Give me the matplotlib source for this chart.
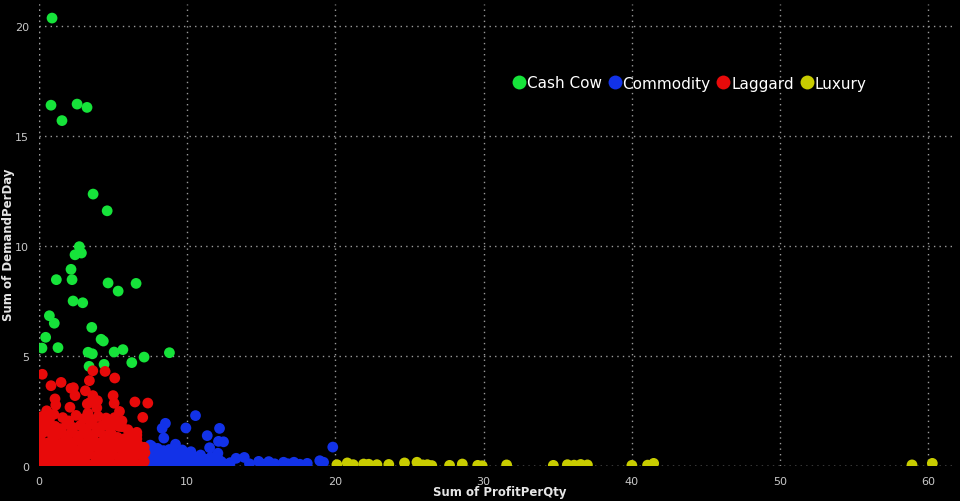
import matplotlib
matplotlib.use("Agg")
import matplotlib.pyplot as plt
from matplotlib.lines import Line2D

# Cash Cow
cow_x = [0.88, 0.81, 1.55, 2.57, 3.24, 3.65, 4.60, 2.72, 2.43, 2.86, 2.16, 1.17,
         2.23, 4.66, 5.34, 6.55, 2.30, 2.95, 0.70, 1.03, 3.56, 0.45, 4.19, 4.34,
         1.28, 0.20, 3.31, 3.60, 5.07, 5.66, 7.09, 6.26, 3.38, 4.39, 8.80]
cow_y = [20.36, 16.40, 15.70, 16.45, 16.30, 12.36, 11.60, 9.97, 9.60, 9.68, 8.94, 8.47,
         8.47, 8.32, 7.95, 8.30, 7.50, 7.42, 6.83, 6.49, 6.30, 5.85, 5.76, 5.68,
         5.38, 5.36, 5.17, 5.10, 5.18, 5.29, 4.95, 4.70, 4.53, 4.62, 5.15]

# Commodity
com_x = [7.30, 7.35, 7.40, 7.60, 7.70, 7.80, 8.00, 8.10, 8.20, 8.40, 8.50, 8.70,
         8.80, 8.90, 9.10, 9.20, 9.40, 9.60, 9.80, 9.90, 10.1, 10.3, 10.5, 10.7,
         10.9, 11.1, 11.3, 11.5, 11.8, 12.0, 12.3, 12.6, 12.9, 13.3, 13.85, 14.2,
         14.82, 15.1, 15.5, 15.9, 16.5, 16.8, 17.2, 17.6, 18.1, 18.94, 19.2, 19.82,
         10.56, 8.53, 8.31, 9.91, 12.18, 8.42, 11.35, 12.11, 12.45, 9.21, 11.51, 12.07,
         9.66, 10.25, 7.50, 7.50, 7.90, 8.30, 8.60, 9.00, 9.30, 9.70, 10.0, 10.4,
         11.0, 11.6, 12.1, 7.45, 7.65, 8.05, 8.45, 8.95]
com_y = [0.10, 0.40, 0.70, 0.90, 0.20, 0.55, 0.80, 0.10, 0.40, 0.70, 0.20, 0.50,
         0.75, 0.10, 0.35, 0.60, 0.15, 0.45, 0.20, 0.60, 0.30, 0.10, 0.40, 0.20,
         0.50, 0.10, 0.30, 0.15, 0.25, 0.10, 0.20, 0.08, 0.15, 0.35, 0.39, 0.10,
         0.21, 0.08, 0.20, 0.10, 0.17, 0.10, 0.17, 0.08, 0.12, 0.24, 0.17, 0.86,
         2.29, 1.94, 1.71, 1.73, 1.71, 1.27, 1.38, 1.12, 1.10, 0.99, 0.83, 0.58,
         0.73, 0.65, 0.95, 0.30, 0.30, 0.15, 0.35, 0.60, 0.40, 0.10, 0.45, 0.25,
         0.30, 0.40, 0.30, 0.60, 0.05, 0.55, 0.05, 0.30]

# Laggard
lag_x = [0.05, 0.40, 0.80, 1.20, 1.60, 2.00, 2.40, 2.80, 3.20, 3.60, 4.00, 4.40,
         4.80, 5.20, 5.60, 6.00, 6.40, 6.80, 7.10,
         0.10, 0.55, 0.95, 1.40, 1.80, 2.20, 2.60, 3.00, 3.40, 3.80, 4.20, 4.60,
         5.00, 5.40, 5.80, 6.20, 6.60, 7.00, 7.15,
         0.05, 0.45, 0.85, 1.30, 1.70, 2.10, 2.50, 2.90, 3.30, 3.70, 4.10, 4.50,
         4.90, 5.30, 5.70, 6.10, 6.50, 6.90, 7.10,
         0.15, 0.60, 1.00, 1.45, 1.90, 2.30, 2.70, 3.10, 3.50, 3.90, 4.30, 4.70,
         5.10, 5.50, 5.90, 6.30, 6.70,
         0.05, 0.25, 0.90, 1.30, 1.75, 2.15, 2.60, 3.00, 3.30, 3.70, 4.10, 4.50,
         4.90, 5.30, 5.80, 6.20, 6.60,
         0.10, 0.30, 0.60, 1.10, 1.50, 1.90, 2.30, 2.80, 3.20, 3.50, 3.90, 4.30,
         4.80, 5.40, 6.00,
         0.05, 0.20, 0.70, 1.00, 1.60, 2.00, 2.50, 3.00, 3.30, 3.60, 4.00, 4.60,
         5.10, 5.60,
         0.22, 3.63, 4.46, 5.11, 0.81, 1.49, 2.16, 2.32, 3.40, 2.43, 3.13, 5.00,
         1.08, 1.13, 6.47, 7.34, 7.00, 2.09, 3.26, 3.63, 3.94, 5.07, 5.43, 3.90,
         3.45, 0.52, 5.59, 6.51, 6.26, 6.60, 4.53, 5.07, 6.60]
lag_y = [0.10, 0.15, 0.08, 0.20, 0.10, 0.18, 0.06, 0.22, 0.12, 0.05, 0.20, 0.10,
         0.16, 0.07, 0.20, 0.10, 0.15, 0.08, 0.20,
         0.45, 0.40, 0.50, 0.42, 0.52, 0.40, 0.48, 0.44, 0.55, 0.40, 0.50, 0.45,
         0.52, 0.40, 0.50, 0.42, 0.50, 0.45, 0.60,
         0.80, 0.75, 0.82, 0.72, 0.85, 0.78, 0.70, 0.84, 0.76, 0.88, 0.72, 0.80,
         0.74, 0.86, 0.75, 0.82, 0.72, 0.78, 0.85,
         1.10, 1.05, 1.15, 1.00, 1.12, 1.05, 1.18, 1.02, 1.14, 1.05, 1.12, 1.00,
         1.10, 1.02, 0.98, 1.05, 0.95,
         1.35, 1.50, 1.40, 1.45, 1.35, 1.50, 1.38, 1.48, 1.35, 1.42, 1.55, 1.35,
         1.45, 1.30, 1.25, 1.30, 1.40,
         1.70, 1.85, 1.65, 1.80, 1.70, 1.90, 1.75, 1.85, 1.70, 1.90, 1.75, 1.85,
         1.70, 1.80, 1.65,
         2.05, 2.25, 2.10, 2.35, 2.20, 2.05, 2.30, 2.15, 2.40, 2.10, 2.25, 2.10,
         2.20, 2.05,
         4.17, 4.33, 4.30, 4.00, 3.65, 3.80, 3.53, 3.56, 3.88, 3.20, 3.42, 3.20,
         3.05, 2.77, 2.91, 2.86, 2.21, 2.67, 2.82, 3.20, 2.97, 2.85, 2.48, 2.64,
         2.89, 2.51, 1.79, 1.41, 1.45, 1.53, 2.18, 2.06, 1.23]

# Luxury
lux_x = [20.1, 20.8, 21.2, 21.9, 22.25, 22.8, 23.6, 24.66, 25.5, 25.9, 26.2, 26.5,
         27.7, 28.56, 29.6, 29.9, 31.55, 34.7, 35.65, 36.1, 36.55, 37.0, 40.0, 41.06,
         41.47, 58.9, 60.27]
lux_y = [0.06, 0.14, 0.06, 0.09, 0.08, 0.06, 0.07, 0.14, 0.17, 0.05, 0.06, 0.02,
         0.03, 0.09, 0.03, 0.01, 0.05, 0.03, 0.06, 0.04, 0.07, 0.05, 0.03, 0.04,
         0.12, 0.05, 0.12]

series = [
    ("Cash Cow", cow_x, cow_y, "#16E33A"),
    ("Commodity", com_x, com_y, "#1232E8"),
    ("Laggard", lag_x, lag_y, "#E80A0A"),
    ("Luxury", lux_x, lux_y, "#C8CC00"),
]

fig = plt.figure(figsize=(9.6, 5.02), dpi=100, facecolor="black")
ax = fig.add_axes([39 / 960, 35 / 502, 916 / 960, 462 / 502])
ax.set_facecolor("black")

for name, xs, ys, col in series:
    ax.scatter(xs, ys, s=60, color=col, edgecolors="none", zorder=3)

ax.set_xlim(0, 61.8)
ax.set_ylim(0, 21.0)
ax.set_xticks([0, 10, 20, 30, 40, 50, 60])
ax.set_yticks([0, 5, 10, 15, 20])
grid_style = dict(color="#9a9a9a", linestyle=(0, (1, 3)), linewidth=1.0)
ax.grid(True, zorder=0, **grid_style)
ax.axhline(0, zorder=1, **grid_style)
ax.axvline(0, zorder=1, **grid_style)
for sp in ax.spines.values():
    sp.set_visible(False)
ax.tick_params(length=0, colors="#c8c8c8", labelsize=8, pad=7)

# axis titles placed by hand so they stay inside the small margins
fig.text(500 / 960, 1 - 493 / 502, "Sum of ProfitPerQty", color="#e6e6e6",
         fontsize=8.5, fontweight="bold", ha="center", va="center")
fig.text(9 / 960, 1 - 245 / 502, "Sum of DemandPerDay", color="#e6e6e6",
         fontsize=8.5, fontweight="bold", ha="center", va="center", rotation=90)

handles = [Line2D([], [], marker="o", linestyle="none", markersize=10,
                  markerfacecolor=c, markeredgecolor="none") for _, _, _, c in series]
labels = [s[0] for s in series]
fig.legend(handles, labels, loc="center", bbox_to_anchor=(690 / 960, 1 - 84 / 502),
           ncol=4, frameon=False, fontsize=11, handlelength=0.7,
           handletextpad=0.15, columnspacing=0.5, labelcolor="white")

fig.savefig("out.png", dpi=100, facecolor="black")
